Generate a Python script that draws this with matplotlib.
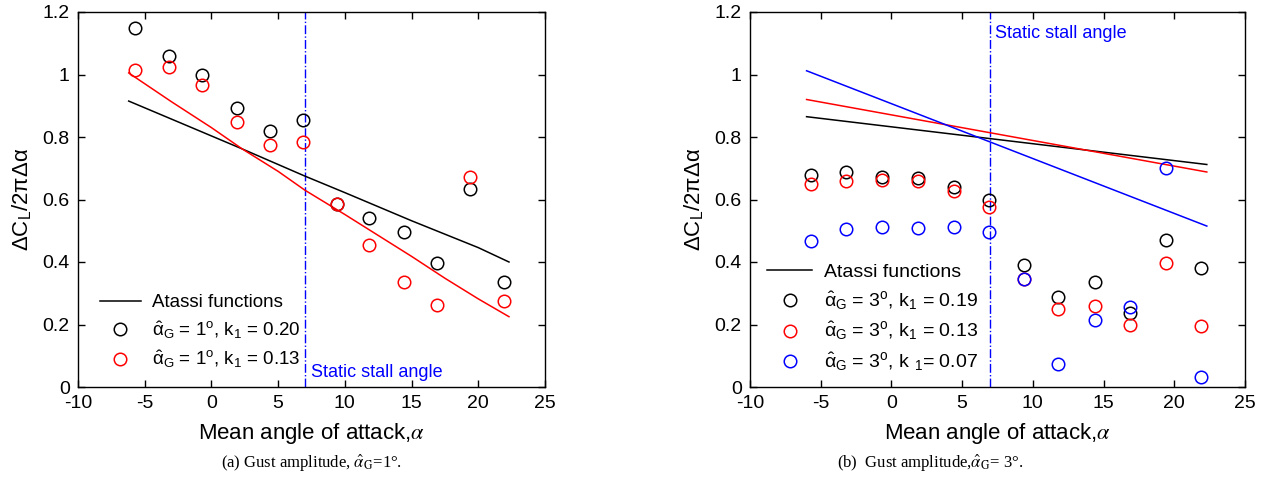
import matplotlib
matplotlib.use("Agg")
import matplotlib.pyplot as plt
from matplotlib.ticker import FuncFormatter

plt.rcParams['font.family'] = ['Liberation Sans', 'DejaVu Sans']
plt.rcParams['mathtext.fontset'] = 'custom'
plt.rcParams['mathtext.rm'] = 'Liberation Sans'
plt.rcParams['mathtext.it'] = 'Liberation Sans'
plt.rcParams['axes.unicode_minus'] = False

# ---- data ----
alpha = [-5.7, -3.2, -0.7, 1.9, 4.4, 6.9, 9.4, 11.8, 14.4, 16.9, 19.4, 21.9]

# (a) gust amplitude 1 deg
a_k020 = [1.15, 1.06, 1.00, 0.893, 0.818, 0.855, 0.587, 0.542, 0.495, 0.398, 0.635, 0.335]
a_k013 = [1.015, 1.023, 0.968, 0.848, 0.776, 0.784, 0.585, 0.455, 0.335, 0.262, 0.672, 0.275]
a_black_x = [-6.2, 2.3, 7.0, 10.0, 15.0, 20.0, 22.3]
a_atassi_k020 = [0.915, 0.762, 0.675, 0.622, 0.532, 0.446, 0.400]
a_red_x = [-6.2, -3.0, 0.0, 2.3, 5.0, 7.0, 10.0, 12.5, 15.0, 17.5, 20.0, 22.3]
a_atassi_k013 = [1.005, 0.913, 0.830, 0.762, 0.690, 0.630, 0.552, 0.485, 0.418, 0.348, 0.282, 0.225]

# (b) gust amplitude 3 deg
b_k019 = [0.678, 0.688, 0.672, 0.668, 0.641, 0.597, 0.392, 0.288, 0.335, 0.237, 0.472, 0.382]
b_k013 = [0.650, 0.658, 0.664, 0.660, 0.626, 0.575, 0.345, 0.251, 0.260, 0.200, 0.397, 0.195]
b_k007 = [0.466, 0.505, 0.513, 0.508, 0.513, 0.495, 0.345, 0.073, 0.213, 0.256, 0.700, 0.031]
b_line_x = [-6.0, 22.3]
b_atassi_k019 = [0.865, 0.712]
b_atassi_k013 = [0.920, 0.688]
b_atassi_k007 = [1.012, 0.515]

stall_angle = 7.0

fig = plt.figure(figsize=(12.7, 4.8), dpi=100)
ax1 = fig.add_axes([78/1270, 1-387/480, (545-78)/1270, (387-12)/480])
ax2 = fig.add_axes([750/1270, 1-387/480, (1245-750)/1270, (387-12)/480])

ms = 9
mk = dict(marker='o', linestyle='none', markerfacecolor='none', markersize=ms, markeredgewidth=1.1)

def style(ax):
    ax.set_xlim(-10, 25)
    ax.set_ylim(0, 1.2)
    ax.set_xticks(range(-10, 26, 5))
    ax.set_yticks([0, 0.2, 0.4, 0.6, 0.8, 1.0, 1.2])
    ax.yaxis.set_major_formatter(FuncFormatter(lambda v, p: ('%g' % round(v, 2))))
    ax.tick_params(direction='in', top=True, right=True, labelsize=14, length=5, width=1, pad=6)
    for s in ax.spines.values():
        s.set_linewidth(1.0)
    ax.set_xlabel(r'Mean angle of attack,$\alpha$', fontsize=16, labelpad=6,
                  math_fontfamily='stix')
    ax.set_ylabel(r'$\Delta$C$_L$/2$\pi\Delta\alpha$', fontsize=16, labelpad=6)
    ax.axvline(stall_angle, color='blue', linestyle='-.', linewidth=1.0)

# ---- (a) ----
style(ax1)
ax1.plot(a_black_x, a_atassi_k020, color='black', lw=1.1, label='Atassi functions')
ax1.plot(a_red_x, a_atassi_k013, color='red', lw=1.1)
ax1.plot(alpha, a_k020, color='black', markeredgecolor='black',
         label=r'$\hat{\alpha}_G$ = 1$^o$, k$_1$ = 0.20', **mk)
ax1.plot(alpha, a_k013, color='red', markeredgecolor='red',
         label=r'$\hat{\alpha}_G$ = 1$^o$, k$_1$ = 0.13', **mk)
ax1.text(7.45, 0.02, 'Static stall angle', color='blue', fontsize=13, va='bottom')
ax1.legend(loc='lower left', bbox_to_anchor=(0.01, 0.0), frameon=False, fontsize=13.5,
           handlelength=2.2, labelspacing=0.4, handletextpad=0.6)

# ---- (b) ----
style(ax2)
ax2.plot(b_line_x, b_atassi_k019, color='black', lw=1.1, label='Atassi functions')
ax2.plot(b_line_x, b_atassi_k013, color='red', lw=1.1)
ax2.plot(b_line_x, b_atassi_k007, color='blue', lw=1.1)
ax2.plot(alpha, b_k019, color='black', markeredgecolor='black',
         label=r'$\hat{\alpha}_G$ = 3$^o$, k$_1$ = 0.19', **mk)
ax2.plot(alpha, b_k013, color='red', markeredgecolor='red',
         label=r'$\hat{\alpha}_G$ = 3$^o$, k$_1$ = 0.13', **mk)
ax2.plot(alpha, b_k007, color='blue', markeredgecolor='blue',
         label=r'$\hat{\alpha}_G$ = 3$^o$, k $_1$= 0.07', **mk)
ax2.text(7.35, 1.13, 'Static stall angle', color='blue', fontsize=13, va='center')
ax2.legend(loc='lower left', bbox_to_anchor=(0.0, -0.01), frameon=False, fontsize=14,
           handlelength=2.3, labelspacing=0.45, handletextpad=0.6)

# captions
fig.text(312/1270, 1-463/480, r'(a) Gust amplitude, $\hat{\alpha}_{\mathrm{G}}$=1°.',
         ha='center', va='center', fontsize=12, family='Liberation Serif', math_fontfamily='stix')
fig.text(930/1270, 1-463/480, r'(b)  Gust amplitude,$\hat{\alpha}_{\mathrm{G}}$= 3°.',
         ha='center', va='center', fontsize=12, family='Liberation Serif', math_fontfamily='stix')

fig.savefig('out.png', dpi=100)
